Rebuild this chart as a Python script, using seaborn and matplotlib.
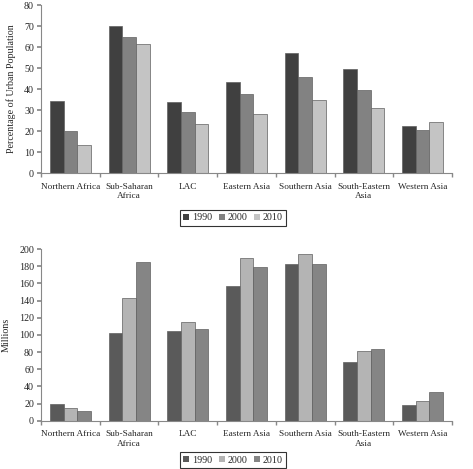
import matplotlib
matplotlib.use("Agg")
import matplotlib.pyplot as plt
import seaborn as sns
import pandas as pd
import numpy as np

regions = ["Northern Africa", "Sub-Saharan\nAfrica", "LAC", "Eastern Asia",
           "Southern Asia", "South-Eastern\nAsia", "Western Asia"]
years = ["1990", "2000", "2010"]

pct_1990 = [34.2, 70.0, 33.6, 43.5, 57.0, 49.3, 22.2]
pct_2000 = [20.0, 65.0, 29.0, 37.4, 45.6, 39.5, 20.4]
pct_2010 = [13.1, 61.5, 23.3, 28.0, 35.0, 31.0, 24.2]

mil_1990 = [20.0, 102.5, 105.0, 157.0, 182.0, 68.8, 18.5]
mil_2000 = [14.8, 143.5, 115.0, 189.0, 194.0, 81.0, 23.0]
mil_2010 = [11.5, 185.0, 106.5, 178.5, 182.0, 83.0, 34.0]

top_colors = ["#404040", "#828282", "#c4c4c4"]
bot_colors = ["#5a5a5a", "#b4b4b4", "#858585"]

def long_df(a, b, c):
    rows = []
    for vals, y in zip([a, b, c], years):
        for r, v in zip(regions, vals):
            rows.append({"region": r, "year": y, "value": v})
    return pd.DataFrame(rows)

sns.set_theme(style="white")
plt.rcParams["font.family"] = ["Liberation Serif", "DejaVu Serif"]

fig = plt.figure(figsize=(4.73, 4.69), dpi=100)
ax1 = fig.add_axes([41/473, 1-173/469, 411/473, 168/469])
ax2 = fig.add_axes([41/473, 1-420.7/469, 411/473, 171.7/469])

def style(ax, df, colors, ymax, ystep, ylabel, leg_y):
    sns.barplot(data=df, x="region", y="value", hue="year", palette=colors,
                width=0.7, ax=ax, edgecolor="#606060", linewidth=0.5,
                saturation=1, legend=True)
    ax.set_ylim(0, ymax)
    ax.set_yticks(np.arange(0, ymax + 1, ystep))
    ax.set_xlim(-0.5, len(regions) - 0.5)
    ax.set_xlabel("")
    ax.set_ylabel(ylabel, fontsize=7.2, labelpad=6)
    for s in ["top", "right"]:
        ax.spines[s].set_visible(False)
    for s in ["left", "bottom"]:
        ax.spines[s].set_color("#888888")
        ax.spines[s].set_linewidth(0.8)
    ax.tick_params(axis="y", labelsize=7.2, length=3, direction="out", left=True,
                   color="#888888", pad=2)
    ax.tick_params(axis="x", which="major", length=0, labelsize=6.7, pad=7)
    ax.set_xticks(np.arange(-0.5, len(regions)), minor=True)
    ax.tick_params(axis="x", which="minor", length=3, direction="out", bottom=True,
                   color="#888888")
    ax.get_legend().remove()
    handles = [plt.Rectangle((0, 0), 1, 1, facecolor=c, edgecolor="none") for c in colors]
    leg = fig.legend(handles, years, loc="center", bbox_to_anchor=(233/473, leg_y),
                     ncol=3, fontsize=7.2, frameon=True, fancybox=False,
                     handlelength=0.6, handleheight=0.6, handletextpad=0.25,
                     columnspacing=0.7, borderpad=0.35)
    leg.get_frame().set_edgecolor("black")
    leg.get_frame().set_linewidth(0.8)

style(ax1, long_df(pct_1990, pct_2000, pct_2010), top_colors, 80, 10,
      "Percentage of Urban Population", 1-218/469)
style(ax2, long_df(mil_1990, mil_2000, mil_2010), bot_colors, 200, 20,
      "Millions", 1-460/469)

fig.savefig("out.png", dpi=100)
